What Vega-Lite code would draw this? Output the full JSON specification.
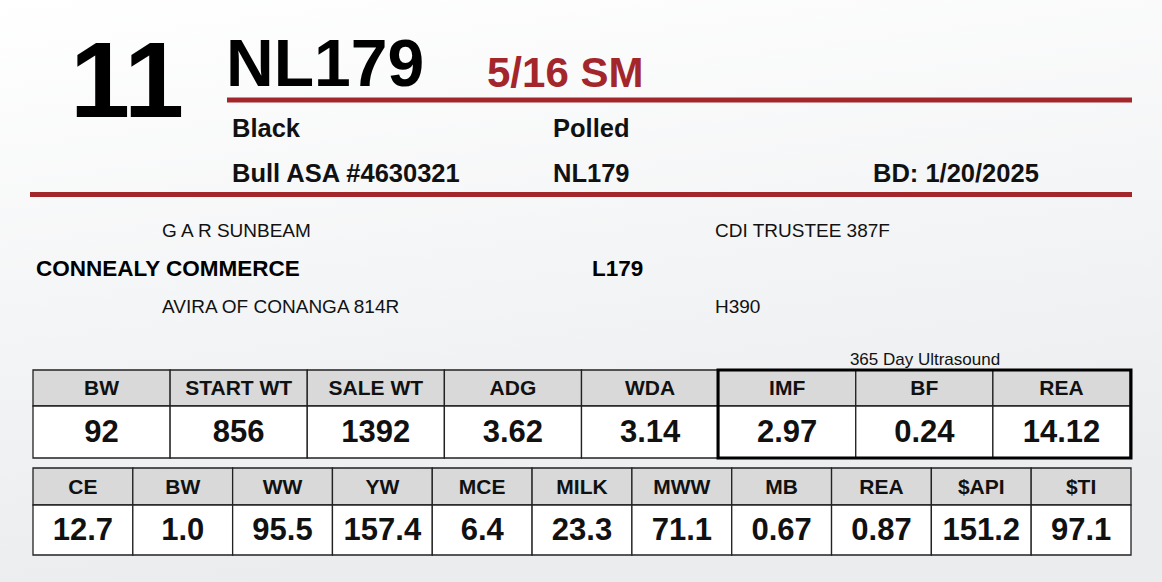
{
  "$schema": "https://vega.github.io/schema/vega-lite/v6.json",
  "width": 1162,
  "height": 582,
  "padding": 0,
  "autosize": {"type": "fit", "contains": "padding"},
  "background": "#f4f5f6",

  "datasets": {
    "animal": [
      {
        "lot": "11",
        "tag": "NL179",
        "breed": "5/16 SM",
        "color": "Black",
        "horn": "Polled",
        "registration": "Bull ASA #4630321",
        "tattoo": "NL179",
        "birth": "BD: 1/20/2025",
        "ultrasound": "365 Day Ultrasound"
      }
    ],
    "pedigree": [
      {"side": "sire", "relation": "sire", "name": "G A R SUNBEAM"},
      {"side": "sire", "relation": "self", "name": "CONNEALY COMMERCE"},
      {"side": "sire", "relation": "dam", "name": "AVIRA OF CONANGA 814R"},
      {"side": "dam", "relation": "sire", "name": "CDI TRUSTEE 387F"},
      {"side": "dam", "relation": "self", "name": "L179"},
      {"side": "dam", "relation": "dam", "name": "H390"}
    ],
    "sale": [
      {"trait": "BW", "value": "92"},
      {"trait": "START WT", "value": "856"},
      {"trait": "SALE WT", "value": "1392"},
      {"trait": "ADG", "value": "3.62"},
      {"trait": "WDA", "value": "3.14"},
      {"trait": "IMF", "value": "2.97"},
      {"trait": "BF", "value": "0.24"},
      {"trait": "REA", "value": "14.12"}
    ],
    "epd": [
      {"trait": "CE", "value": "12.7"},
      {"trait": "BW", "value": "1.0"},
      {"trait": "WW", "value": "95.5"},
      {"trait": "YW", "value": "157.4"},
      {"trait": "MCE", "value": "6.4"},
      {"trait": "MILK", "value": "23.3"},
      {"trait": "MWW", "value": "71.1"},
      {"trait": "MB", "value": "0.67"},
      {"trait": "REA", "value": "0.87"},
      {"trait": "$API", "value": "151.2"},
      {"trait": "$TI", "value": "97.1"}
    ]
  },

  "layer": [
    {
      "data": {"name": "animal"},
      "encoding": {
        "x": {"type": "quantitative", "axis": null, "scale": {"domain": [0, 1162], "nice": false}},
        "y": {"type": "quantitative", "axis": null, "scale": {"domain": [0, 582], "reverse": true, "nice": false}}
      },
      "layer": [
        {
          "mark": {
            "type": "rect",
            "fill": {
              "gradient": "linear", "x1": 0, "y1": 0, "x2": 0.25, "y2": 1,
              "stops": [
                {"offset": 0, "color": "#ffffff"},
                {"offset": 1, "color": "#eaecee"}
              ]
            }
          },
          "encoding": {
            "x": {"datum": 0}, "x2": {"datum": 1162},
            "y": {"datum": 0}, "y2": {"datum": 582}
          }
        },
        {
          "mark": {"type": "rule", "color": "#a3262b", "strokeWidth": 5},
          "encoding": {"x": {"datum": 227}, "x2": {"datum": 1132}, "y": {"datum": 100}}
        },
        {
          "mark": {"type": "rule", "color": "#a3262b", "strokeWidth": 5},
          "encoding": {"x": {"datum": 30}, "x2": {"datum": 1132}, "y": {"datum": 194.5}}
        },
        {
          "mark": {"type": "text", "align": "center", "baseline": "alphabetic", "font": "Liberation Sans, Arial, sans-serif", "fontWeight": "bold", "fontSize": 108, "color": "#000000"},
          "encoding": {"x": {"datum": 127}, "y": {"datum": 117}, "text": {"field": "lot"}}
        },
        {
          "mark": {"type": "text", "align": "left", "baseline": "alphabetic", "font": "Liberation Sans, Arial, sans-serif", "fontWeight": "bold", "fontSize": 66, "color": "#000000"},
          "encoding": {"x": {"datum": 226}, "y": {"datum": 86}, "text": {"field": "tag"}}
        },
        {
          "mark": {"type": "text", "align": "left", "baseline": "alphabetic", "font": "Liberation Sans, Arial, sans-serif", "fontWeight": "bold", "fontSize": 42, "color": "#a3262b"},
          "encoding": {"x": {"datum": 487}, "y": {"datum": 87}, "text": {"field": "breed"}}
        },
        {
          "mark": {"type": "text", "align": "left", "baseline": "alphabetic", "font": "Liberation Sans, Arial, sans-serif", "fontWeight": "bold", "fontSize": 25.5, "color": "#111111"},
          "encoding": {"x": {"datum": 232}, "y": {"datum": 137}, "text": {"field": "color"}}
        },
        {
          "mark": {"type": "text", "align": "left", "baseline": "alphabetic", "font": "Liberation Sans, Arial, sans-serif", "fontWeight": "bold", "fontSize": 25.5, "color": "#111111"},
          "encoding": {"x": {"datum": 553}, "y": {"datum": 137}, "text": {"field": "horn"}}
        },
        {
          "mark": {"type": "text", "align": "left", "baseline": "alphabetic", "font": "Liberation Sans, Arial, sans-serif", "fontWeight": "bold", "fontSize": 25.5, "color": "#111111"},
          "encoding": {"x": {"datum": 232}, "y": {"datum": 182}, "text": {"field": "registration"}}
        },
        {
          "mark": {"type": "text", "align": "left", "baseline": "alphabetic", "font": "Liberation Sans, Arial, sans-serif", "fontWeight": "bold", "fontSize": 25.5, "color": "#111111"},
          "encoding": {"x": {"datum": 553}, "y": {"datum": 182}, "text": {"field": "tattoo"}}
        },
        {
          "mark": {"type": "text", "align": "left", "baseline": "alphabetic", "font": "Liberation Sans, Arial, sans-serif", "fontWeight": "bold", "fontSize": 25.5, "color": "#111111"},
          "encoding": {"x": {"datum": 873}, "y": {"datum": 182}, "text": {"field": "birth"}}
        },
        {
          "mark": {"type": "text", "align": "center", "baseline": "alphabetic", "font": "Liberation Sans, Arial, sans-serif", "fontSize": 17, "color": "#111111"},
          "encoding": {"x": {"datum": 925}, "y": {"datum": 365}, "text": {"field": "ultrasound"}}
        }
      ]
    },

    {
      "data": {"name": "pedigree"},
      "encoding": {
        "y": {
          "field": "relation", "type": "nominal", "axis": null,
          "scale": {"type": "point", "domain": ["sire", "self", "dam"], "range": [231, 306.5], "padding": 0}
        },
        "text": {"field": "name"}
      },
      "layer": [
        {
          "transform": [{"filter": "datum.relation == 'self'"}],
          "mark": {"type": "text", "align": "left", "baseline": "middle", "font": "Liberation Sans, Arial, sans-serif", "fontWeight": "bold", "fontSize": 22.5, "color": "#000000"},
          "encoding": {
            "x": {"field": "side", "type": "nominal", "axis": null, "scale": {"type": "point", "domain": ["sire", "dam"], "range": [36, 592], "padding": 0}}
          }
        },
        {
          "transform": [{"filter": "datum.relation != 'self'"}],
          "mark": {"type": "text", "align": "left", "baseline": "middle", "font": "Liberation Sans, Arial, sans-serif", "fontSize": 19, "color": "#111111"},
          "encoding": {
            "x": {"field": "side", "type": "nominal", "axis": null, "scale": {"type": "point", "domain": ["sire", "dam"], "range": [162, 715], "padding": 0}}
          }
        }
      ],
      "resolve": {"scale": {"x": "independent"}}
    },

    {
      "data": {"name": "sale"},
      "encoding": {
        "x": {
          "field": "trait", "type": "nominal", "sort": null, "axis": null,
          "scale": {"type": "band", "range": [33, 1130], "paddingInner": 0, "paddingOuter": 0}
        }
      },
      "layer": [
        {
          "mark": {"type": "rect", "fill": "#d9d9d9", "stroke": "#222222", "strokeWidth": 1.3},
          "encoding": {
            "y": {"datum": 370, "type": "quantitative", "axis": null, "scale": {"domain": [0, 582], "reverse": true, "nice": false}},
            "y2": {"datum": 406}
          }
        },
        {
          "mark": {"type": "rect", "fill": "#ffffff", "stroke": "#222222", "strokeWidth": 1.3},
          "encoding": {"y": {"datum": 406, "type": "quantitative"}, "y2": {"datum": 458}}
        },
        {
          "mark": {"type": "text", "baseline": "middle", "font": "Liberation Sans, Arial, sans-serif", "fontWeight": "bold", "fontSize": 21, "color": "#111111"},
          "encoding": {"y": {"datum": 389, "type": "quantitative"}, "text": {"field": "trait"}}
        },
        {
          "mark": {"type": "text", "baseline": "middle", "font": "Liberation Sans, Arial, sans-serif", "fontWeight": "bold", "fontSize": 31, "color": "#111111"},
          "encoding": {"y": {"datum": 433, "type": "quantitative"}, "text": {"field": "value"}}
        }
      ]
    },

    {
      "data": {"name": "epd"},
      "encoding": {
        "x": {
          "field": "trait", "type": "nominal", "sort": null, "axis": null,
          "scale": {"type": "band", "range": [33, 1131], "paddingInner": 0, "paddingOuter": 0}
        }
      },
      "layer": [
        {
          "mark": {"type": "rect", "fill": "#d9d9d9", "stroke": "#222222", "strokeWidth": 1.3},
          "encoding": {
            "y": {"datum": 468, "type": "quantitative", "axis": null, "scale": {"domain": [0, 582], "reverse": true, "nice": false}},
            "y2": {"datum": 505}
          }
        },
        {
          "mark": {"type": "rect", "fill": "#ffffff", "stroke": "#222222", "strokeWidth": 1.3},
          "encoding": {"y": {"datum": 505, "type": "quantitative"}, "y2": {"datum": 555}}
        },
        {
          "mark": {"type": "text", "baseline": "middle", "font": "Liberation Sans, Arial, sans-serif", "fontWeight": "bold", "fontSize": 21, "color": "#111111"},
          "encoding": {"y": {"datum": 487.5, "type": "quantitative"}, "text": {"field": "trait"}}
        },
        {
          "mark": {"type": "text", "baseline": "middle", "font": "Liberation Sans, Arial, sans-serif", "fontWeight": "bold", "fontSize": 31, "color": "#111111"},
          "encoding": {"y": {"datum": 531, "type": "quantitative"}, "text": {"field": "value"}}
        }
      ]
    },

    {
      "data": {"values": [{"group": "365 Day Ultrasound"}]},
      "mark": {"type": "rect", "fill": null, "stroke": "#000000", "strokeWidth": 3},
      "encoding": {
        "x": {"datum": 718, "type": "quantitative", "axis": null, "scale": {"domain": [0, 1162], "nice": false}},
        "x2": {"datum": 1131},
        "y": {"datum": 370, "type": "quantitative", "axis": null, "scale": {"domain": [0, 582], "reverse": true, "nice": false}},
        "y2": {"datum": 458}
      }
    }
  ],

  "resolve": {"scale": {"x": "independent", "y": "independent"}},

  "config": {
    "view": {"stroke": null}
  }
}
